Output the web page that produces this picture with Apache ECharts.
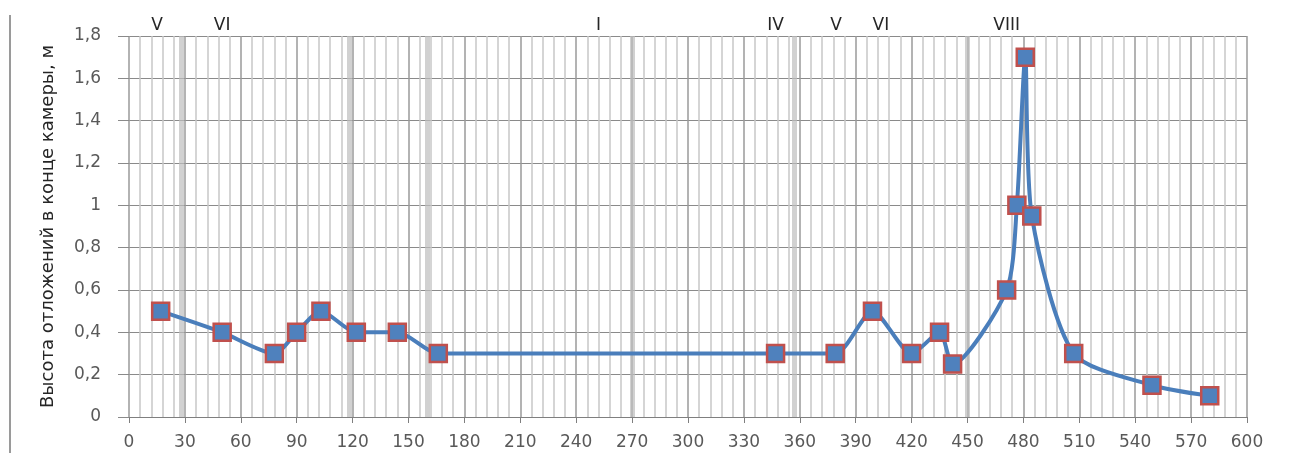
<!DOCTYPE html>
<html>
<head>
<meta charset="utf-8">
<script src="https://cdn.jsdelivr.net/npm/echarts@6/dist/echarts.min.js"></script>
<style>
html,body{margin:0;padding:0;background:#fff;}
#chart{width:1296px;height:453px;}
</style>
</head>
<body>
<div id="chart"></div>
<script>
// Distance along the chamber (x) and deposit height (y, m)
const xValues = [17, 50, 78, 90, 103, 122, 144, 166, 347, 379, 399, 420, 435, 442, 471, 476.5, 481, 484.5, 507, 549, 580];
const heightValues = [0.5, 0.4, 0.3, 0.4, 0.5, 0.4, 0.4, 0.3, 0.3, 0.3, 0.5, 0.3, 0.4, 0.25, 0.6, 1.0, 1.7, 0.95, 0.3, 0.15, 0.1];
// Section labels along the top
const sectionNames = ['V', 'VI', 'I', 'IV', 'V', 'VI', 'VIII'];
const sectionPositions = [15, 50, 252, 347, 379.5, 403.5, 471];
// Light gray section bands
const bandPositions = [28, 118, 160, 270, 357, 450];
const yTitle = 'Высота отложений в конце камеры, м';

const chart = echarts.init(document.getElementById('chart'));
const font = 'DejaVu Sans';
chart.setOption({
  animation: false,
  backgroundColor: '#ffffff',
  grid: {left: 129, right: 49, top: 36, bottom: 36, containLabel: false},
  graphic: [{
    type: 'line', shape: {x1: 10, y1: 15, x2: 10, y2: 453},
    style: {stroke: '#9a9a9a', lineWidth: 2}
  }],
  xAxis: {
    type: 'value', min: 0, max: 600, interval: 30,
    axisLine: {show: true, onZero: false, lineStyle: {color: '#7f7f7f', width: 1}},
    axisTick: {show: true, length: 6, lineStyle: {color: '#7f7f7f'}},
    axisLabel: {color: '#595959', fontFamily: font, fontSize: 17, margin: 17},
    splitLine: {show: true, lineStyle: {color: '#9a9a9a', width: 1.5}},
    minorTick: {show: false, splitNumber: 5},
    minorSplitLine: {show: true, lineStyle: {color: '#c8c8c8', width: 1.5}}
  },
  yAxis: {
    type: 'value', min: 0, max: 1.8, interval: 0.2,
    name: yTitle, nameLocation: 'middle', nameGap: 72, nameRotate: 90,
    nameTextStyle: {color: '#262626', fontFamily: font, fontSize: 18},
    axisLine: {show: false},
    axisTick: {show: true, length: 11, lineStyle: {color: '#8a8a8a'}},
    axisLabel: {color: '#595959', fontFamily: font, fontSize: 17, margin: 28,
      formatter: v => String(+v.toFixed(1)).replace('.', ',')},
    splitLine: {show: true, lineStyle: {color: '#8a8a8a', width: 1.2}}
  },
  series: [
    {
      type: 'line', silent: true, data: [], symbol: 'none',
      markLine: {
        silent: true, symbol: 'none', label: {show: false},
        lineStyle: {color: 'rgba(190,190,190,0.7)', width: 5, type: 'solid'},
        data: bandPositions.map(x => ({xAxis: x}))
      }
    },
    {
      type: 'line',
      data: xValues.map((x, i) => [x, heightValues[i]]),
      smooth: 0.25,
      symbol: 'rect', symbolSize: 17,
      lineStyle: {color: '#4a7ebb', width: 4},
      itemStyle: {color: '#4f81bd', borderColor: '#c0504d', borderWidth: 2.5},
      z: 5
    },
    {
      type: 'scatter', silent: true, symbol: 'circle', symbolSize: 1, clip: false,
      itemStyle: {opacity: 0},
      data: sectionPositions.map((x, i) => ({value: [x, 1.8], name: sectionNames[i]})),
      label: {show: true, position: 'top', distance: 1, formatter: p => p.name,
        color: '#262626', fontFamily: font, fontSize: 17, opacity: 1},
      z: 6
    }
  ]
});
</script>
</body>
</html>
